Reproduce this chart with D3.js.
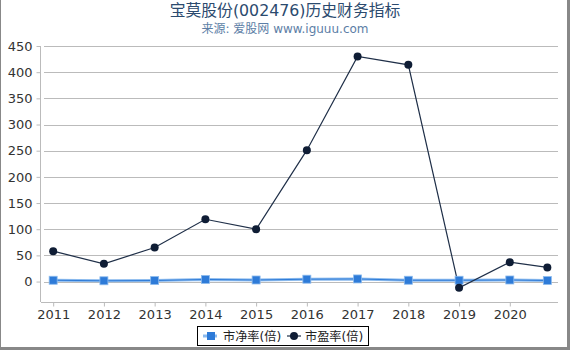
<!DOCTYPE html>
<html>
<head>
<meta charset="utf-8">
<script src="https://cdn.jsdelivr.net/npm/d3@7"></script>
<style>
  body { margin: 0; background: #fff; }
  svg text { font-family: "DejaVu Sans", "Noto Sans CJK SC", sans-serif; }
</style>
</head>
<body>
<div id="chart"></div>
<script>
const WIDTH = 570;
const HEIGHT = 350;

// x positions as fractional years (last point is a partial year)
var YEARS = [2011, 2012, 2013, 2014, 2015, 2016, 2017, 2018, 2019, 2020, 2020.74];
var TICK_YEARS = [2011, 2012, 2013, 2014, 2015, 2016, 2017, 2018, 2019, 2020];
var PB = [2.5, 1.5, 2, 4, 3, 4.5, 5, 2.5, 2.5, 3, 2];
var PE = [58, 34, 65, 119, 100, 251, 430, 414, -12, 37, 27];
var Y_TICKS = [0, 50, 100, 150, 200, 250, 300, 350, 400, 450];

var xScale = d3.scaleLinear().domain([2010.76, 2020.95]).range([41, 558]);
var yScale = d3.scaleLinear().domain([-40, 450]).range([302.5, 46]);

var svg = d3.select("#chart").append("svg")
  .attr("width", WIDTH)
  .attr("height", HEIGHT);

//Frame
svg.append("rect").attr("x", 0).attr("y", 0).attr("width", WIDTH).attr("height", HEIGHT).attr("fill", "#fff");
svg.append("rect").attr("x", 0).attr("y", 0).attr("width", 1).attr("height", HEIGHT).attr("fill", "#888");
svg.append("rect").attr("x", 567).attr("y", 0).attr("width", 3).attr("height", HEIGHT).attr("fill", "#888");
svg.append("rect").attr("x", 0).attr("y", 347).attr("width", WIDTH).attr("height", 3).attr("fill", "#888");

//Title
svg.append("text").attr("x", 285).attr("y", 16).attr("text-anchor", "middle")
  .attr("font-size", 15.8).attr("fill", "#2b4a6e").text("宝莫股份(002476)历史财务指标");
svg.append("text").attr("x", 285).attr("y", 32.5).attr("text-anchor", "middle")
  .attr("font-size", 12).attr("fill", "#5c7ea6").text("来源: 爱股网 www.iguuu.com");

//Grid lines
svg.append("g").selectAll("line").data(Y_TICKS).enter().append("line")
  .attr("x1", 44).attr("x2", 558)
  .attr("y1", d => Math.round(yScale(d)) + 0.5)
  .attr("y2", d => Math.round(yScale(d)) + 0.5)
  .attr("stroke", "#bbb").attr("stroke-width", 1);

//Y axis
var yAxis = d3.axisLeft(yScale).tickValues(Y_TICKS).tickSize(4).tickPadding(4);
var gy = svg.append("g").attr("transform", "translate(40.5,0)").call(yAxis);
gy.select(".domain").attr("stroke", "#bbb").attr("d", "M0,46V302");
gy.selectAll(".tick line").attr("stroke", "#bbb");
gy.selectAll(".tick text").attr("font-size", 13).attr("fill", "#333")
  .attr("font-family", "DejaVu Sans");

//X axis
var xAxis = d3.axisBottom(xScale).tickValues(TICK_YEARS).tickFormat(d3.format("d")).tickSize(4).tickPadding(3);
var gx = svg.append("g").attr("transform", "translate(0,302.5)").call(xAxis);
gx.select(".domain").attr("stroke", "#bbb").attr("d", "M41,0H558");
gx.selectAll(".tick line").attr("stroke", "#bbb");
gx.selectAll(".tick text").attr("font-size", 13).attr("fill", "#333")
  .attr("font-family", "DejaVu Sans");

//Lines
var pbLine = d3.line().x((d, i) => xScale(YEARS[i])).y(d => yScale(d));
svg.append("path").datum(PB).attr("d", pbLine)
  .attr("fill", "none").attr("stroke", "#8cbbee").attr("stroke-width", 3);
svg.append("path").datum(PB).attr("d", pbLine)
  .attr("fill", "none").attr("stroke", "#2e7bd8").attr("stroke-width", 1);
svg.append("path").datum(PE).attr("d", pbLine)
  .attr("fill", "none").attr("stroke", "#1f2f48").attr("stroke-width", 1.2);

//Markers
svg.append("g").selectAll("rect").data(PB).enter().append("rect")
  .attr("x", (d, i) => xScale(YEARS[i]) - 4)
  .attr("y", d => yScale(d) - 4)
  .attr("width", 8).attr("height", 8)
  .attr("fill", "#2e7bd8").attr("stroke", "#8cbbee").attr("stroke-width", 0.8);
svg.append("g").selectAll("circle").data(PE).enter().append("circle")
  .attr("cx", (d, i) => xScale(YEARS[i]))
  .attr("cy", d => yScale(d))
  .attr("r", 4)
  .attr("fill", "#0f1d35");

//Legend
var lg = svg.append("g");
lg.append("rect").attr("x", 197.5).attr("y", 326.5).attr("width", 171).attr("height", 19)
  .attr("fill", "#fff").attr("stroke", "#000").attr("stroke-width", 1);
lg.append("line").attr("x1", 203).attr("x2", 217).attr("y1", 336).attr("y2", 336)
  .attr("stroke", "#8cbbee").attr("stroke-width", 3);
lg.append("rect").attr("x", 207).attr("y", 332).attr("width", 8).attr("height", 8).attr("fill", "#2e7bd8");
lg.append("text").attr("x", 223).attr("y", 340.5).attr("font-size", 12.2).attr("fill", "#222").text("市净率(倍)");
lg.append("line").attr("x1", 287).attr("x2", 301).attr("y1", 336).attr("y2", 336)
  .attr("stroke", "#1f2f48").attr("stroke-width", 1.2);
lg.append("circle").attr("cx", 294).attr("cy", 336).attr("r", 4).attr("fill", "#0f1d35");
lg.append("text").attr("x", 305).attr("y", 340.5).attr("font-size", 12.2).attr("fill", "#222").text("市盈率(倍)");
</script>
</body>
</html>
